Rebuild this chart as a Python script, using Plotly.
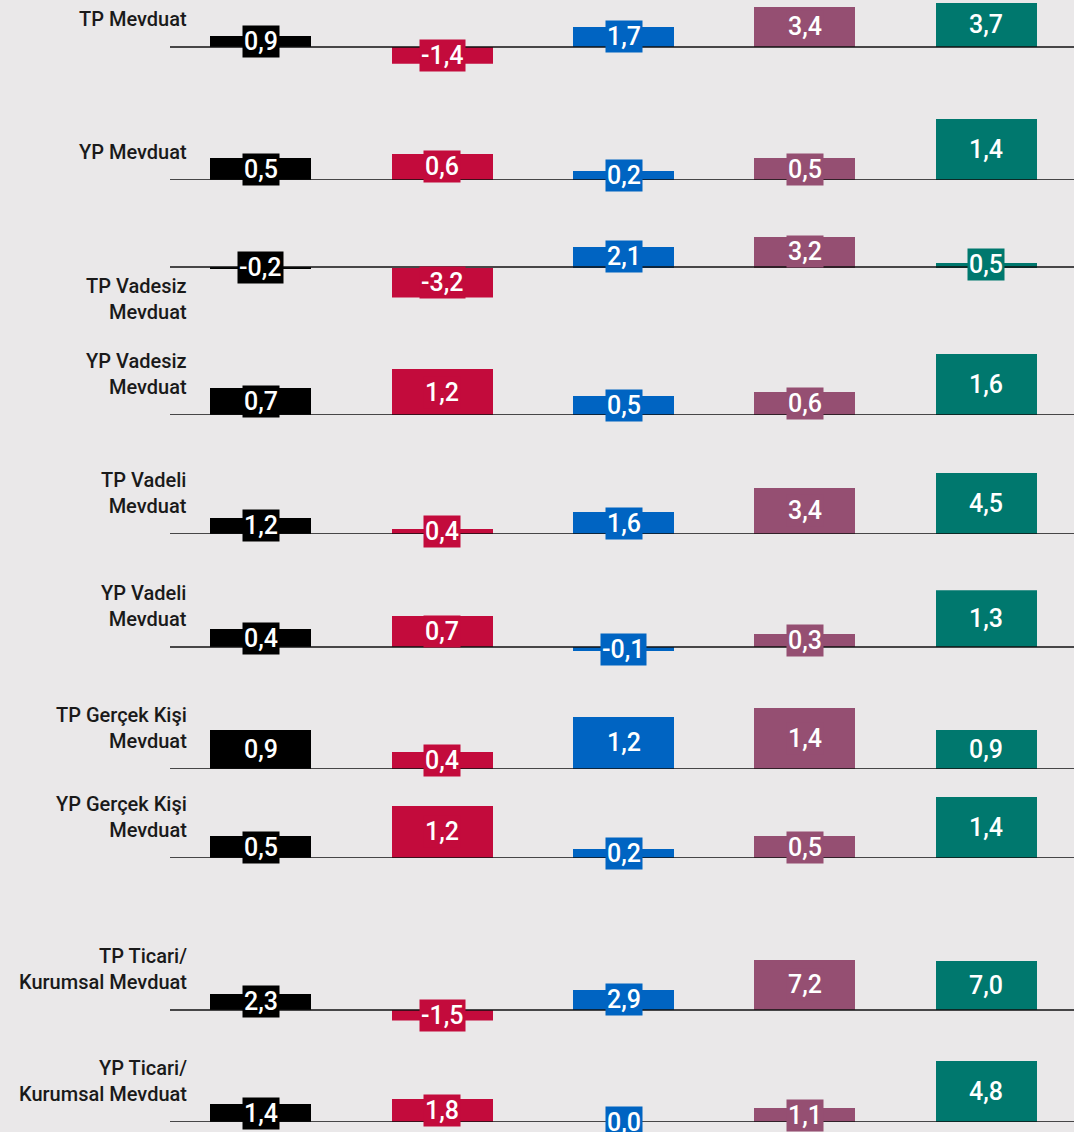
import plotly.graph_objects as go

# ---- data ----
row_labels = [
    "TP Mevduat",
    "YP Mevduat",
    "TP Vadesiz<br>Mevduat",
    "YP Vadesiz<br>Mevduat",
    "TP Vadeli<br>Mevduat",
    "YP Vadeli<br>Mevduat",
    "TP Gerçek Kişi<br>Mevduat",
    "YP Gerçek Kişi<br>Mevduat",
    "TP Ticari/<br>Kurumsal Mevduat",
    "YP Ticari/<br>Kurumsal Mevduat",
]
categories = ["s1", "s2", "s3", "s4", "s5"]
values = [
    [0.9, -1.4, 1.7, 3.4, 3.7],
    [0.5, 0.6, 0.2, 0.5, 1.4],
    [-0.2, -3.2, 2.1, 3.2, 0.5],
    [0.7, 1.2, 0.5, 0.6, 1.6],
    [1.2, 0.4, 1.6, 3.4, 4.5],
    [0.4, 0.7, -0.1, 0.3, 1.3],
    [0.9, 0.4, 1.2, 1.4, 0.9],
    [0.5, 1.2, 0.2, 0.5, 1.4],
    [2.3, -1.5, 2.9, 7.2, 7.0],
    [1.4, 1.8, 0.0, 1.1, 4.8],
]
colors = ["#000000", "#C30B3C", "#0064C2", "#954F72", "#00786E"]

# ---- layout geometry (pixels) ----
W, H = 1074, 1132
baselines_px = [47, 180, 267, 415, 534, 647, 769, 858, 1010, 1122]
band_px = 61
x_left_px = 170
label_right_px = 188
label_below = [False, False, True, False, False, False, False, False, False, False]

fig = go.Figure()
layout_axes = {}
shapes = []
annotations = []

for i, (lab, vals) in enumerate(zip(row_labels, values)):
    n = i + 1
    xa = "x" if n == 1 else f"x{n}"
    ya = "y" if n == 1 else f"y{n}"
    vmax = max(0.0, max(vals))
    vmin = min(0.0, min(vals))
    scale = band_px / (vmax - vmin)
    top_px = baselines_px[i] - vmax * scale
    bot_px = baselines_px[i] - vmin * scale
    dom = [1 - bot_px / H, 1 - top_px / H]

    fig.add_trace(go.Bar(
        x=categories, y=vals, marker=dict(color=colors, line=dict(width=0)),
        width=0.557, xaxis=xa, yaxis=ya, showlegend=False, hoverinfo="skip",
    ))
    layout_axes["xaxis" if n == 1 else f"xaxis{n}"] = dict(
        domain=[x_left_px / W, 1], range=[-0.5, 4.483], visible=False,
        anchor=ya, fixedrange=True, type="category",
    )
    layout_axes["yaxis" if n == 1 else f"yaxis{n}"] = dict(
        domain=dom, range=[vmin, vmax], visible=False, anchor=xa, fixedrange=True,
    )
    shapes.append(dict(
        type="line", xref=f"{xa} domain", yref=ya, x0=0, x1=1, y0=0, y1=0,
        line=dict(color="#111111", width=1.6), layer="above",
    ))
    for c, v, col in zip(categories, vals, colors):
        annotations.append(dict(
            x=c, y=v / 2, xref=xa, yref=ya, showarrow=False,
            text=f"{v:.1f}".replace(".", ","),
            font=dict(family="Roboto", size=25, color="white", weight=500),
            bgcolor=col, borderpad=1, xanchor="center", yanchor="middle",
        ))
    common = dict(
        x=label_right_px / W, y=0, xref="paper", yref=ya, showarrow=False,
        text=lab, align="right", xanchor="right", borderpad=0,
        font=dict(family="Roboto", size=20, color="#1a1a1a", weight=500),
    )
    if label_below[i]:
        annotations.append(dict(common, yanchor="top", yshift=-6))
    else:
        annotations.append(dict(common, yanchor="bottom", yshift=15))

fig.update_layout(
    width=W, height=H,
    margin=dict(l=0, r=0, t=0, b=0),
    paper_bgcolor="#EAE8E9", plot_bgcolor="rgba(0,0,0,0)",
    shapes=shapes, annotations=annotations,
    bargap=0, showlegend=False,
    **layout_axes,
)
fig.write_html(
    "out.html",
    config={"displayModeBar": False},
    post_script="document.body.style.margin='0';document.body.style.background='#EAE8E9';",
)
